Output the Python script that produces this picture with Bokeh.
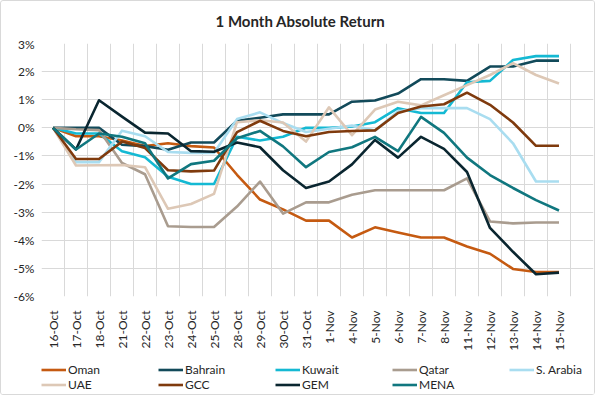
import math
from bokeh.plotting import figure
from bokeh.layouts import column
from bokeh.models import Range1d, FixedTicker, Legend, LegendItem, PrintfTickFormatter, Label
from bokeh.embed import file_html
from bokeh.resources import INLINE

dates = ["16-Oct", "17-Oct", "18-Oct", "21-Oct", "22-Oct", "23-Oct", "24-Oct", "25-Oct",
         "28-Oct", "29-Oct", "30-Oct", "31-Oct", "1-Nov", "4-Nov", "5-Nov", "6-Nov",
         "7-Nov", "8-Nov", "11-Nov", "12-Nov", "13-Nov", "14-Nov", "15-Nov"]

oman = [0, -0.3, -0.3, -0.45, -0.65, -0.55, -0.65, -0.7, -1.67, -2.55, -2.9, -3.3, -3.3,
        -3.9, -3.54, -3.72, -3.9, -3.9, -4.22, -4.48, -5.02, -5.13, -5.13]
bahrain = [0, 0, 0, -0.6, -0.65, -0.78, -0.52, -0.52, 0.25, 0.36, 0.48, 0.48, 0.48,
           0.93, 0.97, 1.22, 1.73, 1.73, 1.67, 2.18, 2.18, 2.39, 2.39]
kuwait = [0, -0.2, -0.2, -0.83, -1.05, -1.74, -2.0, -2.0, -0.32, -0.45, -0.32, 0, 0,
          0.05, 0.2, 0.7, 0.53, 0.53, 1.62, 1.67, 2.41, 2.55, 2.55]
qatar = [0, -0.05, -0.08, -1.25, -1.65, -3.5, -3.53, -3.53, -2.8, -1.91, -3.05, -2.65, -2.65,
         -2.38, -2.22, -2.22, -2.22, -2.22, -1.8, -3.33, -3.4, -3.37, -3.37]
s_arabia = [0, -1.22, -1.22, -0.1, -0.3, -0.86, -0.89, -0.89, 0.31, 0.55, 0.17, -0.15, -0.03,
            0.08, -0.1, 0.59, 0.7, 0.7, 0.7, 0.31, -0.55, -1.91, -1.91]
uae = [0, -1.34, -1.33, -1.32, -1.4, -2.88, -2.71, -2.35, 0.2, 0.27, 0.19, -0.49, 0.73,
       -0.26, 0.65, 0.93, 0.8, 1.16, 1.52, 1.88, 2.3, 1.88, 1.58]
gcc = [0, -1.11, -1.11, -0.49, -0.72, -1.51, -1.55, -1.52, -0.15, 0.25, -0.11, -0.3, -0.15,
       -0.11, -0.09, 0.53, 0.76, 0.84, 1.25, 0.82, 0.19, -0.64, -0.64]
gem = [0, -0.77, 0.98, 0.4, -0.17, -0.2, -0.83, -0.85, -0.52, -0.69, -1.51, -2.14, -1.91,
       -1.3, -0.43, -1.06, -0.32, -0.75, -1.57, -3.56, -4.41, -5.21, -5.15]
mena = [0, -0.77, -0.2, -0.32, -0.55, -1.8, -1.29, -1.17, -0.37, -0.11, -0.66, -1.4, -0.86,
        -0.69, -0.32, -0.83, 0.39, -0.18, -1.06, -1.68, -2.14, -2.57, -2.94]

series_names = ["Oman", "Bahrain", "Kuwait", "Qatar", "S. Arabia", "UAE", "GCC", "GEM", "MENA"]
series_values = [oman, bahrain, kuwait, qatar, s_arabia, uae, gcc, gem, mena]
series_colors = ["#C55A11", "#124A5A", "#14B9D3", "#A99C8F", "#A9DDF0", "#DDC8B6",
                 "#7F3A0D", "#0A2630", "#10777F"]

title_text = "1 Month Absolute Return"
y_ticks = list(range(-6, 4))
FONT = "Lato"
TXT = "#262626"

# ---- title strip ----
tf = figure(width=593, height=35, output_backend="svg", toolbar_location=None,
            x_range=Range1d(0, 1), y_range=Range1d(0, 35),
            x_axis_type=None, y_axis_type=None, min_border=0)
tf.outline_line_color = None
tf.xgrid.visible = False
tf.ygrid.visible = False
tf.add_layout(Label(x=0.469, y=16, text=title_text, text_align="center",
                    text_baseline="middle", text_font=FONT, text_font_size="15px",
                    text_font_style="bold", text_color=TXT))

# ---- main chart ----
p = figure(width=593, height=317, output_backend="svg", toolbar_location=None,
           x_range=Range1d(-0.5, len(dates) + 0.5), y_range=Range1d(-6, 3),
           min_border_left=40, min_border_right=1, min_border_top=7, min_border_bottom=48)

p.outline_line_color = None
p.background_fill_color = "white"
p.border_fill_color = "white"

xs = list(range(len(dates)))

p.xgrid.ticker = FixedTicker(ticks=[i - 0.5 for i in range(len(dates) + 2)])
p.ygrid.ticker = FixedTicker(ticks=y_ticks)
for g in (p.xgrid, p.ygrid):
    g.grid_line_color = "#D9D9D9"
    g.grid_line_width = 1

p.xaxis.ticker = FixedTicker(ticks=xs)
p.xaxis.major_label_overrides = {i: d for i, d in zip(xs, dates)}
p.xaxis.major_label_orientation = math.pi / 2
p.yaxis.ticker = FixedTicker(ticks=y_ticks)
p.yaxis.formatter = PrintfTickFormatter(format="%d%%")
for ax in (p.xaxis, p.yaxis):
    ax.axis_line_color = None
    ax.major_tick_line_color = None
    ax.minor_tick_line_color = None
    ax.major_label_text_font = FONT
    ax.major_label_text_font_size = "12px"
    ax.major_label_text_color = TXT
p.xaxis.major_label_standoff = 8
p.yaxis.major_label_standoff = 1

for name, vals, col in zip(series_names, series_values, series_colors):
    p.line(xs, vals, line_color=col, line_width=2.6, line_join="round")

# ---- legend strip (same series styles) ----
lf = figure(width=593, height=41, output_backend="svg", toolbar_location=None,
            x_range=Range1d(0, 1), y_range=Range1d(0, 1),
            x_axis_type=None, y_axis_type=None, min_border=0)
lf.outline_line_color = None
lf.xgrid.visible = False
lf.ygrid.visible = False
lf.border_fill_color = "white"

items = []
for name, col in zip(series_names, series_colors):
    r = lf.line(x=[-5, -4], y=[-5, -5], line_color=col, line_width=2.6)
    items.append(LegendItem(label=name, renderers=[r]))

legend = Legend(items=items, location=(0, 2), orientation="horizontal", ncols=5,
                glyph_width=25, glyph_height=15, label_height=15, label_width=90,
                label_standoff=2, spacing=0, padding=0, margin=0,
                border_line_color=None, background_fill_alpha=0,
                label_text_font=FONT, label_text_font_size="12px",
                label_text_color=TXT)
lf.add_layout(legend)

layout = column(tf, p, lf, spacing=0)
layout.styles = {"border": "1px solid #D9D9D9", "border-radius": "3px"}

open("out.html", "w").write(file_html(layout, INLINE))
